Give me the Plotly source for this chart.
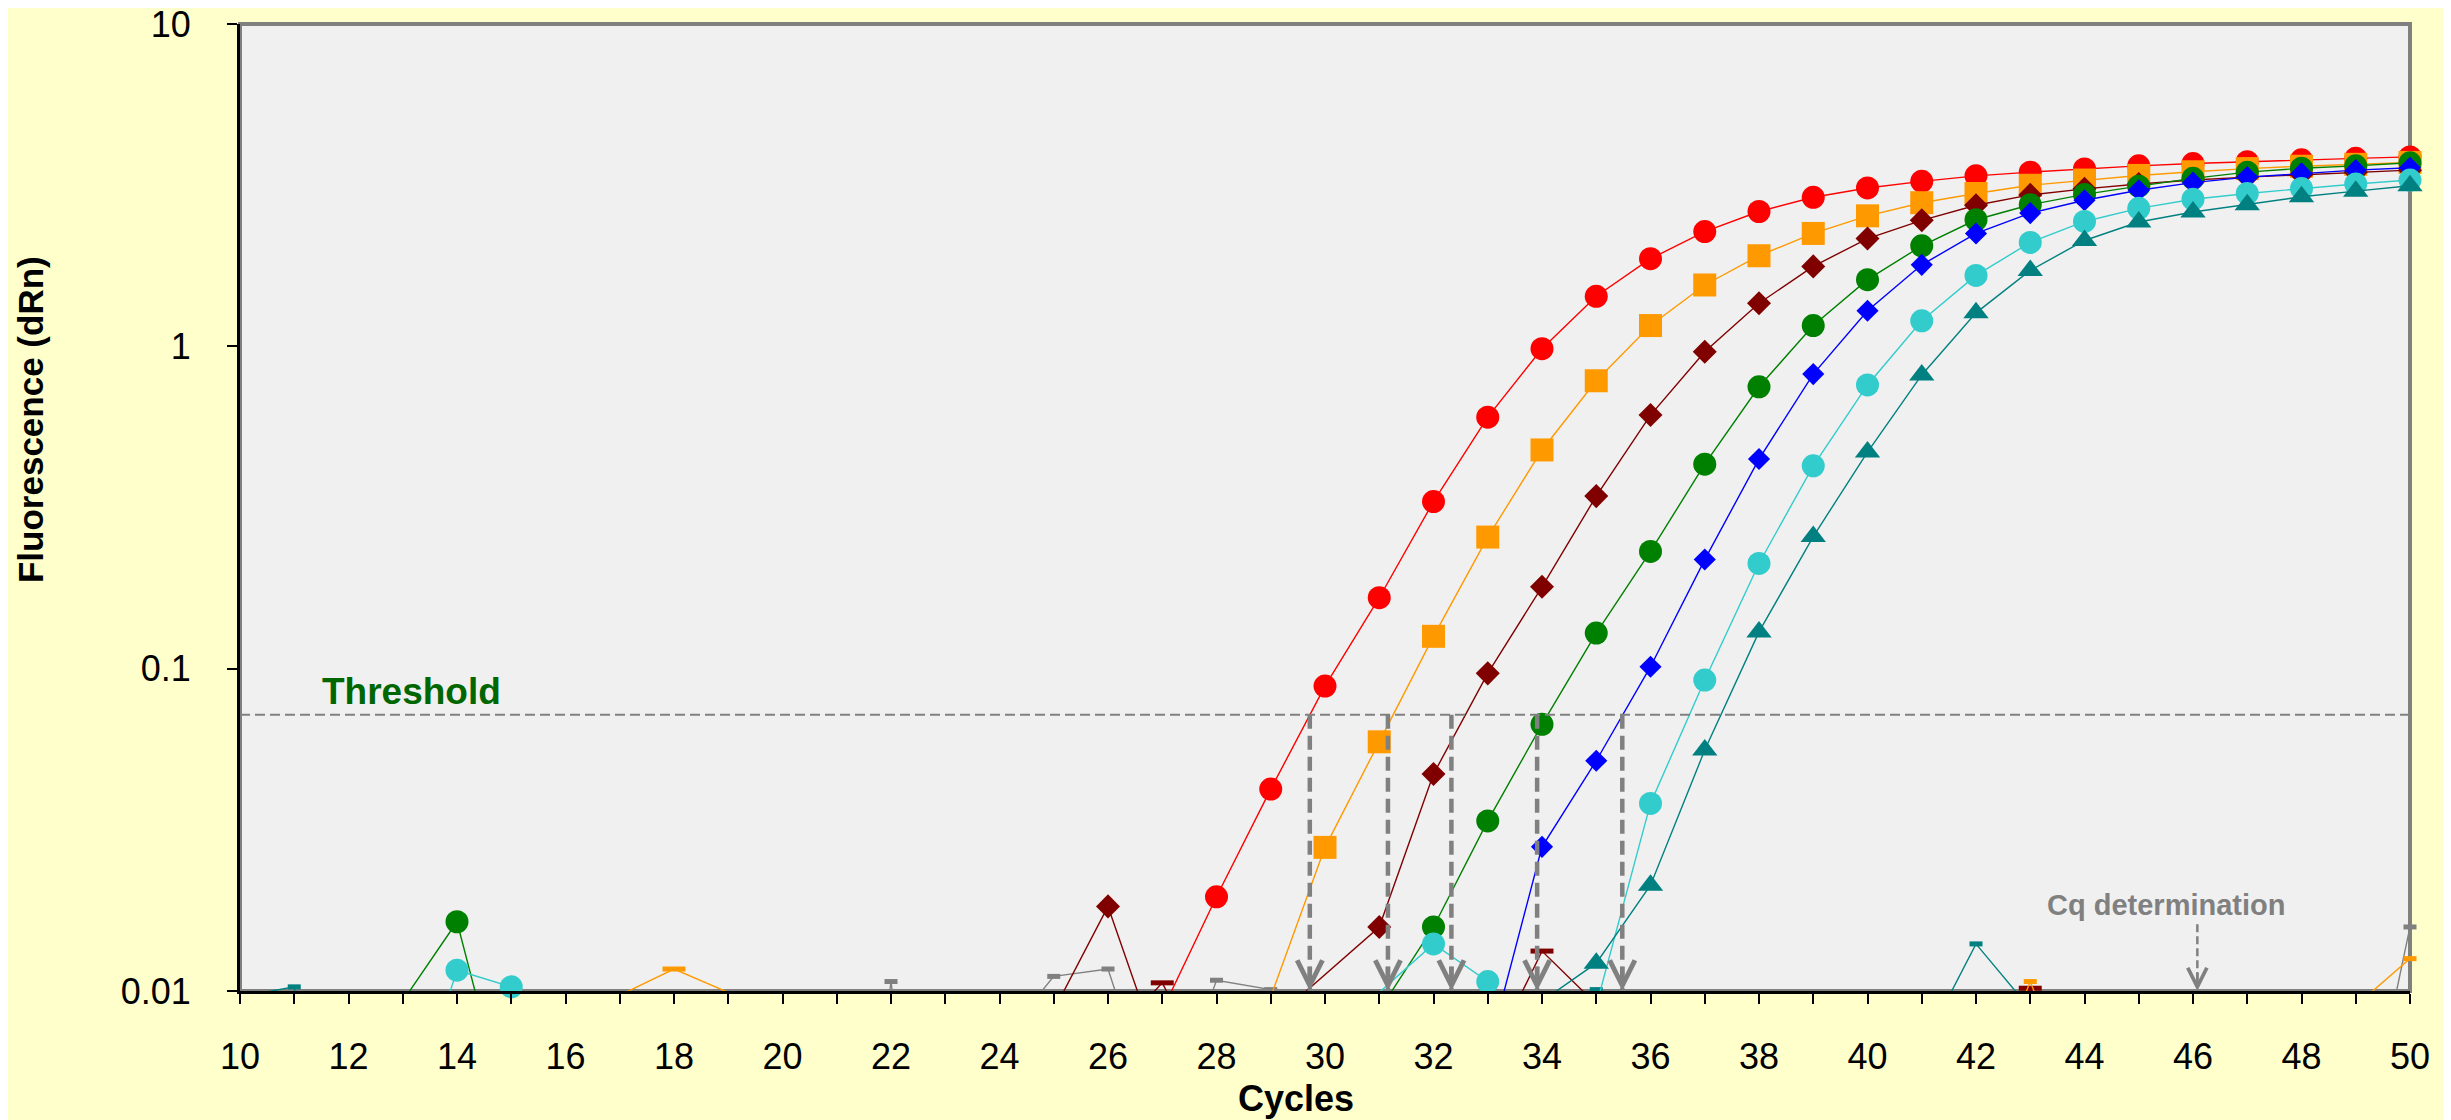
import math
import plotly.graph_objects as go

N = None
cycles = list(range(10, 51))

# ---- main amplification curves (dRn, one value per cycle 10..50; None = not visible/unknown) ----
red = [N, N, N, N, N, N, N, N, N, N, N, N, N, N, N, N, N,
       0.0087, 0.0196, 0.0423, 0.0883, 0.166, 0.330, 0.603, 0.983, 1.43, 1.87, 2.27, 2.62,
       2.90, 3.10, 3.25, 3.38, 3.47, 3.55, 3.63, 3.69, 3.74, 3.79, 3.83, 3.87]
orange = [N, N, N, N, N, N, N, N, N, N, N, N, N, N, N, N, N, N, N,
          0.0096, 0.0279, 0.0593, 0.126, 0.256, 0.477, 0.782, 1.16, 1.55, 1.91, 2.24,
          2.54, 2.79, 2.98, 3.16, 3.28, 3.39, 3.48, 3.56, 3.62, 3.67, 3.72]
darkred = [N, N, N, N, N, N, N, N, N, N, N, N, N, N, N,
           0.0087, 0.0183, 0.0060, N, 0.0080, N, 0.0158, 0.0471, 0.0967, 0.1795, 0.343,
           0.612, 0.962, 1.36, 1.77, 2.16, 2.46, 2.74, 2.95, 3.08, 3.19, 3.28, 3.35, 3.41,
           3.47, 3.52]
green = [N, N, N, 0.0093, 0.0164, 0.0037,
         N, N, N, N, N, N, N, N, N, N, N, N, N, N, N,
         0.0087, 0.0158, 0.0337, 0.0672, 0.129, 0.231, 0.431, 0.749, 1.16, 1.61, 2.05,
         2.47, 2.75, 2.96, 3.14, 3.32, 3.47, 3.57, 3.63, 3.71]
blue = [N, N, N, N, N, N, N, N, N, N, N, N, N, N, N, N, N, N, N, N, N, N, N,
        0.0064, 0.0280, 0.0518, 0.1014, 0.218, 0.447, 0.820, 1.29, 1.79, 2.24, 2.59,
        2.84, 3.05, 3.22, 3.35, 3.44, 3.52, 3.58]
cyan = [N, N, N, 0.0035, 0.0116, 0.0103, 0.0010,
        N, N, N, N, N, N, N, N, N, N, N, N, N, N,
        0.0099, 0.0140, 0.0107, 0.0010, 0.0090, 0.0382, 0.0922, 0.212, 0.426, 0.759,
        1.20, 1.66, 2.10, 2.44, 2.68, 2.86, 2.98, 3.09, 3.19, 3.28]
teal = [N, N, N, N, N, N, N, N, N, N, N, N, N, N, N, N, N, N, N, N, N, N, N, N,
        0.0093, 0.0122, 0.0213, 0.0559, 0.130, 0.257, 0.470, 0.815, 1.27, 1.72, 2.13,
        2.43, 2.61, 2.75, 2.91, 3.03, 3.15]

# ---- baseline noise traces (controls) ----
gray_ntc = [N, N, N, N, N, N, N, N, N, N, N,
            0.0005, 0.0107, 0.0005, 0.0069, 0.0111, 0.0117, 0.0036, 0.0108, 0.0101, 0.0030,
            N, N, N, N, N, N, N, N, N, N, N, N, N, N, N, N, N, N,
            0.0025, 0.0158]
darkred_noise = [N, N, N, N, N, N, N, N, N, N, N, N, N, N, N, N,
                 0.0070, 0.0106, 0.0050, N, N, N, N, 0.0060, 0.0133, 0.0091,
                 N, N, N, N, N, N, 0.0040, 0.0102, 0.0040, N, N, N, N, N, N]
orange_noise_a = [N, N, N, N, N, N, N, 0.0097, 0.0117, 0.0099,
                  N, N, N, N, N, N, N, N, N, N, N, N, N, N, N, N, N, N, N, N, N,
                  N, N, N, N, N, N, N, N, N, N]
orange_noise_b = [N, N, N, N, N, N, N, N, N, N, N, N, N, N, N, N, N, N, N, N, N,
                  N, N, N, N, N, N, N, N, N, N, N,
                  0.0040, 0.0107, 0.0040, N, N, N, N, 0.0090, 0.0126]
teal_noise = [0.0096, 0.0103, 0.0005,
              N, N, N, N, N, N, N, N, N, N, N, N, N, N, N, N, N, N, N, N, N,
              0.0040, 0.0101, 0.0040, N, N, N, N, 0.0066, 0.0140, 0.0088,
              N, N, N, N, N, N, N]

threshold = 0.072
cq_values = [29.72, 31.16, 32.33, 33.91, 35.48]
cq_label_cycle = 46.08
cq_label_top = 0.0161

for arr in (red, orange, darkred, green, blue, cyan, teal, gray_ntc, darkred_noise,
            orange_noise_a, orange_noise_b, teal_noise):
    assert len(arr) == len(cycles), len(arr)

FONT = "Liberation Sans, Arial, sans-serif"
GRAY = "#808080"

fig = go.Figure()

main_series = [
    ("Red", red, "#FF0000", "circle", 23, False),
    ("Orange", orange, "#FF9900", "square", 23, False),
    ("Dark red", darkred, "#800000", "diamond", 18.5, True),
    ("Green", green, "#008000", "circle", 23, False),
    ("Blue", blue, "#0000FF", "diamond", 17, False),
    ("Cyan", cyan, "#33CCCC", "circle", 23, False),
    ("Teal", teal, "#008080", "triangle-up", 22, False),
]

noise_series = [
    ("NTC", gray_ntc, GRAY, 9.3),
    ("Dark red ctrl", darkred_noise, "#800000", 16.4),
    ("Orange ctrl A", orange_noise_a, "#FF9900", 16.4),
    ("Orange ctrl B", orange_noise_b, "#FF9900", 9.3),
    ("Teal ctrl", teal_noise, "#008080", 9.3),
]

for name, vals, color, msize in noise_series:
    fig.add_trace(go.Scatter(
        x=cycles, y=vals, name=name, mode="lines+markers",
        line=dict(color=color, width=1.4),
        marker=dict(symbol="line-ew", size=msize, line=dict(color=color, width=5)),
        cliponaxis=False, hoverinfo="skip"))

for name, vals, color, sym, size, gaps in main_series:
    fig.add_trace(go.Scatter(
        x=cycles, y=vals, name=name, mode="lines+markers",
        line=dict(color=color, width=1.4),
        marker=dict(symbol=sym, size=size, color=color, line=dict(width=0)),
        connectgaps=gaps, cliponaxis=False))

# threshold line
fig.add_trace(go.Scatter(x=[cycles[0], cycles[-1]], y=[threshold, threshold], mode="lines",
                         line=dict(color=GRAY, width=2, dash="10px,5px"), hoverinfo="skip"))

# Cq drop lines
for cq in cq_values:
    fig.add_trace(go.Scatter(x=[cq, cq], y=[threshold, 0.01], mode="lines",
                             line=dict(color=GRAY, width=4.5, dash="14px,7px"),
                             hoverinfo="skip"))
fig.add_trace(go.Scatter(x=[cq_label_cycle, cq_label_cycle], y=[cq_label_top, 0.0103],
                         mode="lines", line=dict(color=GRAY, width=2.5, dash="8px,4px"),
                         hoverinfo="skip"))

annotations = []
for cq in cq_values:
    annotations.append(dict(x=cq, y=math.log10(0.01), xref="x", yref="y", text="",
                            showarrow=True, ax=0, ay=-26, arrowhead=5, arrowwidth=4.5,
                            arrowsize=1.1, arrowcolor=GRAY))
annotations.append(dict(x=cq_label_cycle, y=math.log10(0.01), xref="x", yref="y", text="",
                        showarrow=True, ax=0, ay=-20, arrowhead=5, arrowwidth=2.5,
                        arrowsize=1.5, arrowcolor=GRAY))
annotations.append(dict(x=11.47, y=math.log10(threshold), xref="x", yref="y",
                        text="<b>Threshold</b>", showarrow=False, xanchor="left",
                        yanchor="middle", yshift=23,
                        font=dict(family=FONT, size=37, color="#006600")))
annotations.append(dict(x=45.5, y=-1.733, xref="x", yref="y",
                        text="<b>Cq determination</b>", showarrow=False, xanchor="center",
                        yanchor="middle", font=dict(family=FONT, size=29, color=GRAY)))
annotations.append(dict(x=0.4866, y=-0.1107, xref="paper", yref="paper",
                        text="<b>Cycles</b>", showarrow=False, xanchor="center",
                        yanchor="middle", font=dict(family=FONT, size=36, color="black")))
annotations.append(dict(x=-0.0963, y=0.5905, xref="paper", yref="paper",
                        text="<b>Fluorescence (dRn)</b>", showarrow=False, textangle=-90,
                        xanchor="center", yanchor="middle",
                        font=dict(family=FONT, size=35, color="black")))

# the page body adds an 8px margin, so the figure is 16px smaller and shifted margins
fig.update_layout(
    width=2443, height=1112, autosize=False,
    margin=dict(l=232, r=41, t=16, b=129, pad=0, autoexpand=False),
    paper_bgcolor="#FFFFCC", plot_bgcolor="#F0F0F0",
    showlegend=False,
    font=dict(family=FONT, size=36, color="black"),
    annotations=annotations,
    shapes=[dict(type="rect", xref="paper", yref="paper", x0=0, x1=1, y0=0, y1=1,
                 line=dict(color=GRAY, width=4), layer="below")],
    xaxis=dict(range=[10, 50], tick0=10, dtick=2, ticks="outside", ticklen=10, tickwidth=2,
               tickcolor="black", showline=True, linecolor="black", linewidth=3,
               showgrid=False, zeroline=False, ticklabelstandoff=22, automargin=False,
               tickfont=dict(family=FONT, size=36, color="black"),
               minor=dict(dtick=1, tick0=10, ticks="outside", ticklen=10, tickwidth=2,
                          tickcolor="black", showgrid=False)),
    yaxis=dict(type="log", range=[-2, 1], tickvals=[0.01, 0.1, 1, 10],
               ticktext=["0.01", "0.1", "1", "10"], ticks="outside", ticklen=10,
               tickwidth=2, tickcolor="black", showline=True, linecolor="black",
               linewidth=3, showgrid=False, zeroline=False, ticklabelstandoff=29,
               ticklabeloverflow="allow", automargin=False,
               tickfont=dict(family=FONT, size=36, color="black")),
)

fig.write_html("out.html")
